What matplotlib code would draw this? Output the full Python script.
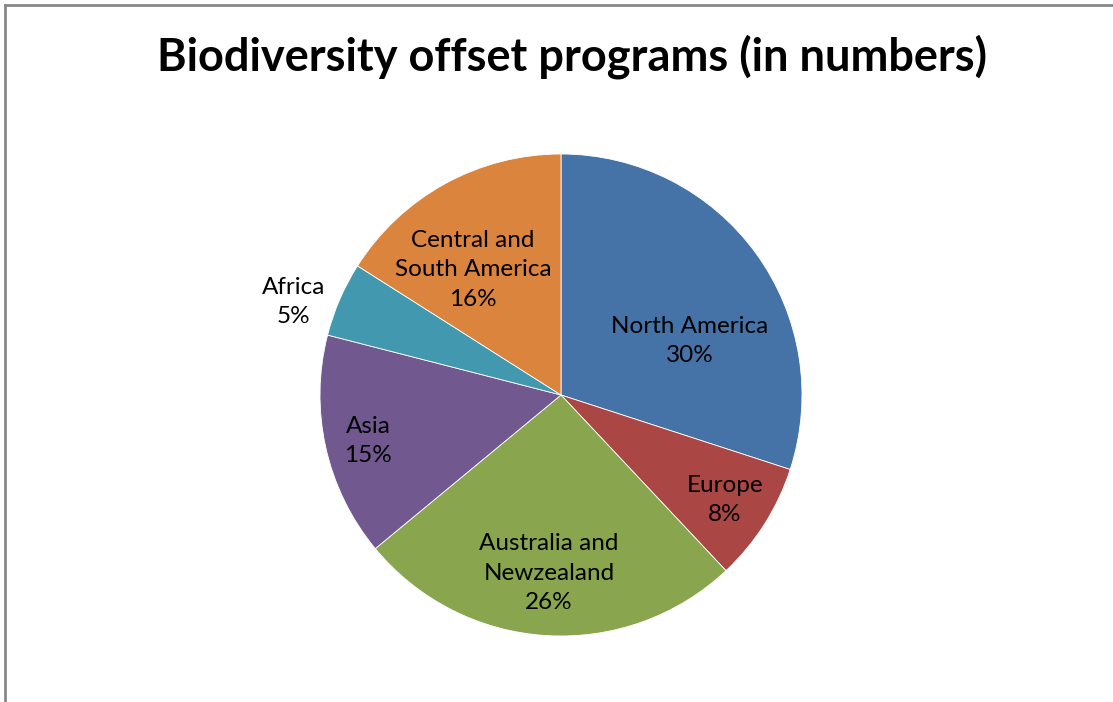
import matplotlib
matplotlib.use("Agg")
import matplotlib.pyplot as plt
from matplotlib.lines import Line2D

regions = ["North America", "Europe", "Australia and\nNewzealand", "Asia",
           "Africa", "Central and\nSouth America"]
shares = [30, 8, 26, 15, 5, 16]
colors = ["#4572A7", "#AA4643", "#89A54E", "#71588F", "#4198AF", "#DB843D"]
# label centres, in pie-radius units
label_pos = [(0.535, 0.225), (0.68, -0.435), (-0.05, -0.74), (-0.80, -0.19),
             (-1.11, 0.385), (-0.365, 0.52)]

plt.rcParams['font.family'] = ['Lato', 'DejaVu Sans']

W, H = 1113, 702
fig = plt.figure(figsize=(W / 100, H / 100), dpi=100)

cx, cy, r = 561, 395, 241
ax = fig.add_axes([(cx - r) / W, (H - cy - r) / H, 2 * r / W, 2 * r / H])
ax.pie(shares, colors=colors, startangle=90, counterclock=False, radius=1,
       wedgeprops=dict(edgecolor="white", linewidth=0.6))
ax.set_xlim(-1, 1)
ax.set_ylim(-1, 1)
ax.set_aspect("equal")
ax.axis("off")

for name, s, (x, y) in zip(regions, shares, label_pos):
    ax.text(x, y, "%s\n%d%%" % (name, s), ha="center", va="center",
            fontsize=17.5, linespacing=1.5, color="black", clip_on=False)

fig.text(572 / W, 1 - 57 / H, "Biodiversity offset programs (in numbers)",
         ha="center", va="center", fontsize=32.5, fontweight="bold")

# chart frame (only left and top edges visible)
fig.add_artist(Line2D([4.5 / W, 4.5 / W], [0, 1 - 4.5 / H], color="#888888", lw=2))
fig.add_artist(Line2D([4.5 / W, 1], [1 - 4.5 / H, 1 - 4.5 / H], color="#888888", lw=2))

fig.savefig("out.png", dpi=100)
